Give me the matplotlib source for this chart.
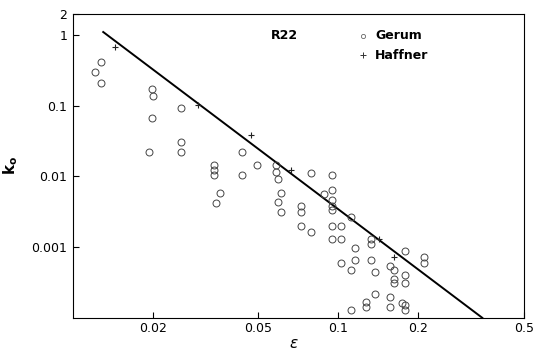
import matplotlib
matplotlib.use("Agg")
import matplotlib.pyplot as plt
import numpy as np

# Gerum data (open circles)
gerum_eps = [0.0128, 0.0121, 0.0127, 0.0199, 0.0201, 0.0199, 0.0256, 0.0256, 0.0256, 0.0194,
             0.0433, 0.0493, 0.0340, 0.0340, 0.0340, 0.0433, 0.0358, 0.0346, 0.0581, 0.0581,
             0.0591, 0.0789, 0.0946, 0.0609, 0.0591, 0.0609, 0.0721, 0.0721, 0.0882, 0.0946,
             0.0946, 0.0946, 0.0946, 0.1114, 0.0721, 0.0789, 0.0946, 0.1026, 0.0946, 0.1026,
             0.1323, 0.1323, 0.1158, 0.1790, 0.2099, 0.2099, 0.1026, 0.1158, 0.1114, 0.1323,
             0.1376, 0.1573, 0.1628, 0.1628, 0.1628, 0.1790, 0.1790, 0.1376, 0.1573, 0.1268,
             0.1268, 0.1573, 0.1737, 0.1790, 0.1790, 0.1114]
gerum_k = [0.41, 0.30, 0.21, 0.17, 0.135, 0.067, 0.093, 0.031, 0.022, 0.022,
           0.022, 0.0143, 0.0143, 0.0123, 0.0103, 0.0103, 0.0059, 0.0042, 0.0143, 0.0115,
           0.0093, 0.0112, 0.0103, 0.0059, 0.0044, 0.0031, 0.0038, 0.0031, 0.0056, 0.0065,
           0.0047, 0.0038, 0.0033, 0.0027, 0.00196, 0.00166, 0.00196, 0.00196, 0.00132, 0.00132,
           0.00132, 0.00110, 0.00097, 0.00088, 0.00072, 0.00059, 0.00059, 0.00065, 0.00048, 0.00065,
           0.00044, 0.00054, 0.00047, 0.00035, 0.00031, 0.00040, 0.00031, 0.00022, 0.00020, 0.00017,
           0.00014, 0.00014, 0.00016, 0.00015, 0.000127, 0.000127]

# Haffner data (plus signs)
haffner_eps = [0.0144, 0.0297, 0.0468, 0.0661, 0.1430, 0.1628]
haffner_k = [0.67, 0.102, 0.038, 0.0123, 0.00132, 0.00072]

# correlation line end points
line_eps = [0.0130, 0.349]
line_k = [1.10, 1.0e-4]

xticks = [0.02, 0.05, 0.1, 0.2, 0.5]
xticklabels = ['0.02', '0.05', '0.1', '0.2', '0.5']
yticks = [2, 1, 0.1, 0.01, 0.001]
yticklabels = ['2', '1', '0.1', '0.01', '0.001']

fig = plt.figure(figsize=(5.34, 3.5), dpi=100)
ax = fig.add_axes([0.1367, 0.092, 0.844, 0.869])

ax.plot(line_eps, line_k, color='black', lw=1.4)
ax.plot(gerum_eps, gerum_k, 'o', ms=5, mfc='none', mec='#444444', mew=0.7)
ax.plot(haffner_eps, haffner_k, '+', ms=5, color='#222222', mew=0.8)

ax.set_xscale('log')
ax.set_yscale('log')
ax.set_xlim(0.01, 0.5)
ax.set_ylim(1e-4, 2)

ax.set_xticks(xticks)
ax.set_xticklabels(xticklabels)
ax.set_yticks(yticks)
ax.set_yticklabels(yticklabels)
ax.minorticks_off()
ax.tick_params(direction='in', length=4, labelsize=9, pad=4)
ax.tick_params(axis='x', pad=3)

fig.text(0.55, 1 - 343 / 350, r'$\epsilon$', fontsize=11, ha='center', va='center')
ax.set_ylabel(r'$\mathbf{k_o}$', fontsize=11, labelpad=8)

# legend and label text
ax.text(0.0555, 0.97, 'R22', fontsize=9, fontweight='bold', va='center')
ax.plot([0.124], [0.97], 'o', ms=3, mfc='none', mec='#666666', mew=0.6)
ax.text(0.1376, 0.97, 'Gerum', fontsize=9, fontweight='bold', va='center')
ax.plot([0.124], [0.52], '+', ms=4, color='#333333', mew=0.7)
ax.text(0.1376, 0.52, 'Haffner', fontsize=9, fontweight='bold', va='center')

fig.savefig('out.png', dpi=100)
